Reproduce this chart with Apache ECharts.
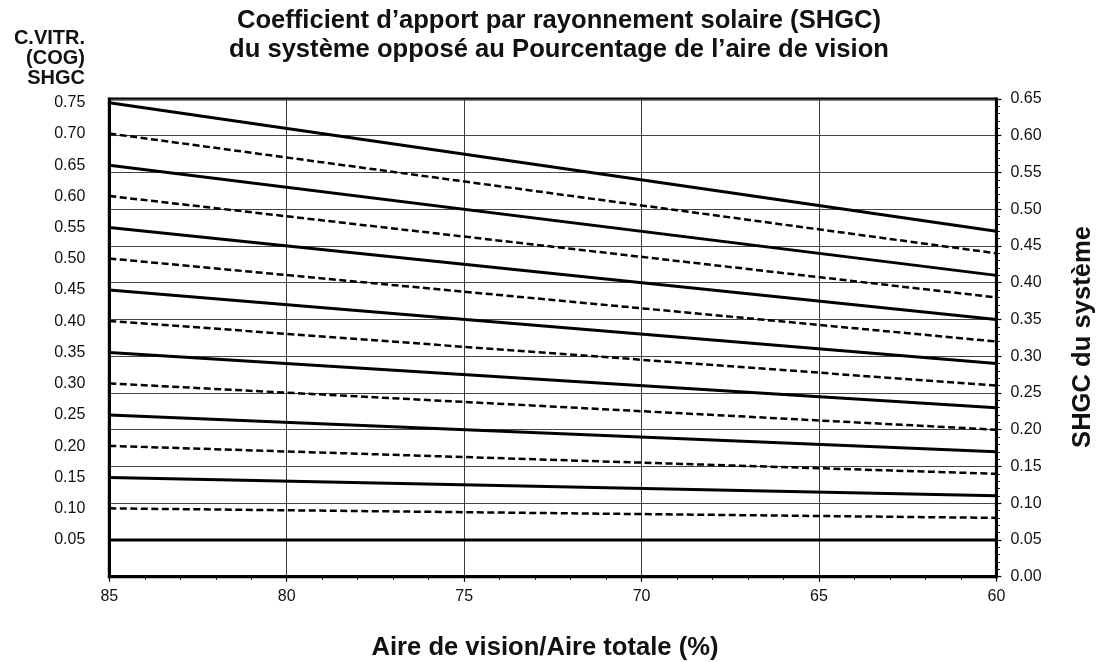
<!DOCTYPE html>
<html>
<head>
<meta charset="utf-8">
<title>SHGC du système</title>
<script src="https://cdn.jsdelivr.net/npm/echarts@6/dist/echarts.min.js"></script>
<style>
  html, body { margin: 0; padding: 0; background: #fff; }
  #chart { width: 1096px; height: 662px; }
</style>
</head>
<body>
<div id="chart"></div>
<script>
// Vision area / total area (%) at the two ends of every line
const visionArea = [85, 60];

// Centre-of-glass SHGC that names each line (left scale, at 85 %)
const cogShgc = [0.75, 0.70, 0.65, 0.60, 0.55, 0.50, 0.45, 0.40, 0.35, 0.30, 0.25, 0.20, 0.15, 0.10, 0.05];

// System SHGC of each line at 85 % and at 60 % vision area (right scale)
const systemAt85 = [0.645, 0.603, 0.560, 0.518, 0.475, 0.433, 0.390, 0.348, 0.305, 0.263, 0.220, 0.178, 0.135, 0.093, 0.050];
const systemAt60 = [0.470, 0.440, 0.410, 0.380, 0.350, 0.320, 0.290, 0.260, 0.230, 0.200, 0.170, 0.140, 0.110, 0.080, 0.050];

// Tick labels of the centre-of-glass scale
const cogTicks = [0.05, 0.10, 0.15, 0.20, 0.25, 0.30, 0.35, 0.40, 0.45, 0.50, 0.55, 0.60, 0.65, 0.70, 0.75];

// Extent of the centre-of-glass scale, aligned with the system scale 0 – 0.65
const cogAxisMin = -0.0088;
const cogAxisMax = 0.7559;

const FONT = '"Liberation Sans", Arial, Helvetica, sans-serif';
const INK = '#111';

const chart = echarts.init(document.getElementById('chart'), null, { renderer: 'canvas' });

const series = cogShgc.map((cog, i) => {
  const solid = i % 2 === 0;
  return {
    name: 'C.VITR. ' + cog.toFixed(2),
    type: 'line',
    yAxisIndex: 1,
    symbol: 'none',
    silent: true,
    z: 5,
    data: [
      [visionArea[0], systemAt85[i]],
      [visionArea[1], systemAt60[i]]
    ],
    lineStyle: {
      color: '#000',
      width: solid ? 3 : 2.5,
      type: solid ? 'solid' : [7, 3.5],
      cap: 'butt'
    }
  };
});

const option = {
  animation: false,
  backgroundColor: '#fff',
  textStyle: { fontFamily: FONT },
  title: {
    text: 'Coefficient d’apport par rayonnement solaire (SHGC)\ndu système opposé au Pourcentage de l’aire de vision',
    left: 554,
    top: 1,
    textAlign: 'center',
    textStyle: {
      fontFamily: FONT,
      fontSize: 25.6,
      fontWeight: 'bold',
      color: INK,
      lineHeight: 29
    }
  },
  grid: {
    left: 109.3,
    right: 99.6,
    top: 99,
    bottom: 85.3,
    containLabel: false,
    outerBoundsMode: 'none',
    show: true,
    borderColor: '#000',
    borderWidth: 3,
    backgroundColor: 'transparent'
  },
  xAxis: {
    type: 'value',
    inverse: true,
    min: 60,
    max: 85,
    interval: 5,
    axisLine: { show: true, onZero: false, lineStyle: { color: '#000', width: 3 } },
    axisTick: { show: true, length: 5, lineStyle: { color: '#000', width: 1.2 } },
    minorTick: { show: true, splitNumber: 5, length: 3, lineStyle: { color: '#000', width: 1 } },
    axisLabel: { fontSize: 16, color: INK, fontFamily: FONT, margin: 12 },
    splitLine: { show: true, lineStyle: { color: '#3a3a3a', width: 1 } },
    minorSplitLine: { show: false }
  },
  yAxis: [
    {
      // centre-of-glass scale
      type: 'value',
      position: 'left',
      min: cogAxisMin,
      max: cogAxisMax,
      axisLine: { show: true, onZero: false, lineStyle: { color: '#000', width: 3 } },
      axisTick: { show: false, customValues: cogTicks },
      axisLabel: {
        customValues: cogTicks,
        fontSize: 16,
        color: INK,
        fontFamily: FONT,
        margin: 24,
        formatter: v => v.toFixed(2)
      },
      splitLine: { show: false }
    },
    {
      // system scale
      type: 'value',
      position: 'right',
      min: 0,
      max: 0.65,
      interval: 0.05,
      axisLine: { show: true, onZero: false, lineStyle: { color: '#000', width: 3 } },
      axisTick: { show: true, length: 5, lineStyle: { color: '#000', width: 1.2 } },
      minorTick: { show: true, splitNumber: 5, length: 3.5, lineStyle: { color: '#000', width: 1 } },
      axisLabel: {
        fontSize: 16,
        color: INK,
        fontFamily: FONT,
        margin: 14,
        formatter: v => v.toFixed(2)
      },
      splitLine: { show: true, lineStyle: { color: '#444', width: 1 } }
    }
  ],
  graphic: [
    {
      type: 'text',
      x: 85,
      y: 28,
      silent: true,
      style: {
        text: 'C.VITR.\n(COG)\nSHGC',
        fill: INK,
        font: 'bold 20px ' + FONT,
        align: 'right',
        textAlign: 'right',
        verticalAlign: 'top',
        textVerticalAlign: 'top',
        lineHeight: 20
      }
    },
    {
      type: 'text',
      x: 545,
      y: 648,
      silent: true,
      style: {
        text: 'Aire de vision/Aire totale (%)',
        fill: INK,
        font: 'bold 25.6px ' + FONT,
        align: 'center',
        textAlign: 'center',
        verticalAlign: 'middle',
        textVerticalAlign: 'middle'
      }
    },
    {
      type: 'text',
      x: 1083,
      y: 337,
      rotation: Math.PI / 2,
      silent: true,
      style: {
        text: 'SHGC du système',
        fill: INK,
        font: 'bold 25.6px ' + FONT,
        align: 'center',
        textAlign: 'center',
        verticalAlign: 'middle',
        textVerticalAlign: 'middle'
      }
    }
  ],
  series: series
};

chart.setOption(option);
</script>
</body>
</html>
